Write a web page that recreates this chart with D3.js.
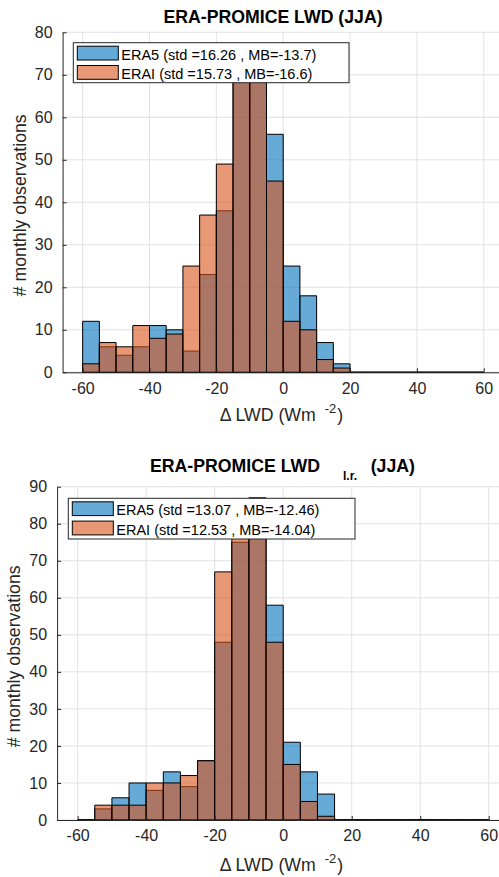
<!DOCTYPE html>
<html>
<head>
<meta charset="utf-8">
<script src="https://cdn.jsdelivr.net/npm/d3@7"></script>
<style>
  body { margin: 0; background: #fff; }
  text { font-family: "Liberation Sans", Arial, sans-serif; }
</style>
</head>
<body>
<svg id="fig"></svg>
<script>
// histogram bins, 5 Wm-2 wide
const binStarts = [-60, -55, -50, -45, -40, -35, -30, -25, -20, -15, -10, -5,
                   0, 5, 10, 15, 20, 25, 30, 35, 40, 45, 50, 55];
const binWidth = 5;

// counts per bin, all-sky LWD
const era5All = [12, 6, 4, 6, 11, 10, 5, 23, 38, 72, 76, 56, 25, 18, 7, 2, 0, 0, 0, 0, 0, 0, 0, 0];
const eraiAll = [2, 7, 6, 11, 8, 9, 25, 37, 49, 74, 72, 45, 12, 10, 3, 1, 0, 0, 0, 0, 0, 0, 0, 0];

// counts per bin, LWD l.r.
const era5Lr = [0, 3, 6, 10, 8, 13, 9, 16, 48, 75, 87, 58, 21, 13, 7, 0, 0, 0, 0, 0, 0, 0, 0, 0];
const eraiLr = [0, 4, 4, 4, 10, 10, 12, 16, 67, 78, 86, 48, 15, 5, 1, 0, 0, 0, 0, 0, 0, 0, 0, 0];

const xTicks = [-60, -40, -20, 0, 20, 40, 60];
const yTicksAll = [0, 10, 20, 30, 40, 50, 60, 70, 80];
const yTicksLr = [0, 10, 20, 30, 40, 50, 60, 70, 80, 90];

const legendAll = ["ERA5 (std =16.26 , MB=-13.7)", "ERAI (std =15.73 , MB=-16.6)"];
const legendLr = ["ERA5 (std =13.07 , MB=-12.46)", "ERAI (std =12.53 , MB=-14.04)"];

const w = 499;
const h = 877;
const blue = "#0072bd";
const orange = "#d95319";
const axisColor = "#262626";
const gridColor = "#e2e2e2";

const svg = d3.select("#fig").attr("width", w).attr("height", h);

const panel = (o) => {
  const g = svg.append("g");
  const xScale = d3.scaleLinear().domain([-66, 66]).range([o.left, o.right]);
  const yScale = d3.scaleLinear().domain([0, o.yMax]).range([o.bottom, o.top]);

  // grid
  g.selectAll(".gx")
    .data(xTicks)
    .enter()
    .append("line")
    .attr("x1", (d) => xScale(d))
    .attr("x2", (d) => xScale(d))
    .attr("y1", o.top)
    .attr("y2", o.bottom)
    .attr("stroke", gridColor);
  g.selectAll(".gy")
    .data(o.yTicks)
    .enter()
    .append("line")
    .attr("x1", o.left)
    .attr("x2", o.right)
    .attr("y1", (d) => yScale(d))
    .attr("y2", (d) => yScale(d))
    .attr("stroke", gridColor);

  // bars: ERA5 first, ERAI drawn over it
  [[o.era5, blue], [o.erai, orange]].forEach(([vals, col]) => {
    g.append("g")
      .selectAll("path")
      .data(vals)
      .enter()
      .append("path")
      .attr("d", (v, i) => {
        const x0 = xScale(binStarts[i]);
        const x1 = xScale(binStarts[i] + binWidth);
        const y0 = yScale(0);
        const y1 = yScale(v);
        return `M${x0},${y0}V${y1}H${x1}V${y0}Z`;
      })
      .attr("fill", col)
      .attr("fill-opacity", 0.6)
      .attr("stroke", "#000")
      .attr("stroke-width", 1);
  });

  // axes (matlab style: ticks inside, plain hyphen)
  const fmt = (d) => String(d);
  const xAxis = d3.axisBottom(xScale).tickValues(xTicks).tickFormat(fmt)
    .tickSizeInner(-4).tickSizeOuter(0).tickPadding(10);
  const yAxis = d3.axisLeft(yScale).tickValues(o.yTicks).tickFormat(fmt)
    .tickSizeInner(-4).tickSizeOuter(0).tickPadding(10);
  [g.append("g").attr("transform", `translate(0,${o.bottom})`).call(xAxis),
   g.append("g").attr("transform", `translate(${o.left},0)`).call(yAxis)].forEach((ax) => {
    ax.select(".domain").attr("stroke", axisColor);
    ax.selectAll(".tick line").attr("stroke", axisColor);
    ax.selectAll(".tick text")
      .attr("fill", axisColor)
      .style("font-size", "16px")
      .style("font-family", '"Liberation Sans", Arial, sans-serif');
  });

  // axis labels
  svg.append("text")
    .attr("transform", `translate(${o.yLabelX},${(o.top + o.bottom) / 2 + 3}) rotate(-90)`)
    .attr("text-anchor", "middle")
    .attr("fill", axisColor)
    .style("font-size", "17.7px")
    .text("# monthly observations");

  const xl = svg.append("text")
    .attr("x", 281.5)
    .attr("y", o.xLabelY)
    .attr("text-anchor", "middle")
    .attr("fill", axisColor)
    .style("font-size", "17.7px");
  xl.append("tspan").text("\u0394 LWD (Wm");
  xl.append("tspan").attr("dx", 9).attr("dy", -8).style("font-size", "13px").text("-2");
  xl.append("tspan").attr("dx", 1).attr("dy", 8).text(")");

  // legend
  const lg = svg.append("g");
  lg.append("rect")
    .attr("x", o.legX)
    .attr("y", o.legY)
    .attr("width", o.legW)
    .attr("height", o.legH)
    .attr("fill", "#fff")
    .attr("stroke", axisColor)
    .attr("stroke-width", 1);
  [blue, orange].forEach((col, i) => {
    lg.append("rect")
      .attr("x", o.legX + 4)
      .attr("y", o.legY + 3.5 + i * 19.3)
      .attr("width", 41)
      .attr("height", 13.8)
      .attr("fill", col)
      .attr("fill-opacity", 0.6)
      .attr("stroke", "#000");
    lg.append("text")
      .attr("x", o.legX + 48)
      .attr("y", o.legY + 17 + i * 19.3)
      .attr("fill", "#000")
      .style("font-size", "14.5px")
      .text(o.legend[i]);
  });
};

panel({
  left: 62.6, right: 503.8, top: 32.3, bottom: 372.3, yMax: 80,
  yTicks: yTicksAll, era5: era5All, erai: eraiAll, legend: legendAll,
  legX: 73.3, legY: 42.7, legW: 275.7, legH: 40,
  yLabelX: 26, xLabelY: 421
});

panel({
  left: 57.1, right: 509.3, top: 486.7, bottom: 820, yMax: 90,
  yTicks: yTicksLr, era5: era5Lr, erai: eraiLr, legend: legendLr,
  legX: 68.3, legY: 498.3, legW: 286.7, legH: 40.7,
  yLabelX: 20, xLabelY: 871
});

// titles
svg.append("text")
  .attr("x", 273)
  .attr("y", 23.3)
  .attr("text-anchor", "middle")
  .style("font-size", "17.7px")
  .style("font-weight", "bold")
  .text("ERA-PROMICE LWD (JJA)");

svg.append("text").attr("x", 150).attr("y", 471.7)
  .style("font-size", "17.7px").style("font-weight", "bold")
  .text("ERA-PROMICE LWD");
svg.append("text").attr("x", 343).attr("y", 479.5)
  .style("font-size", "12px").style("font-weight", "bold")
  .text("l.r.");
svg.append("text").attr("x", 370.7).attr("y", 471.7)
  .style("font-size", "17.7px").style("font-weight", "bold")
  .text("(JJA)");
</script>
</body>
</html>
